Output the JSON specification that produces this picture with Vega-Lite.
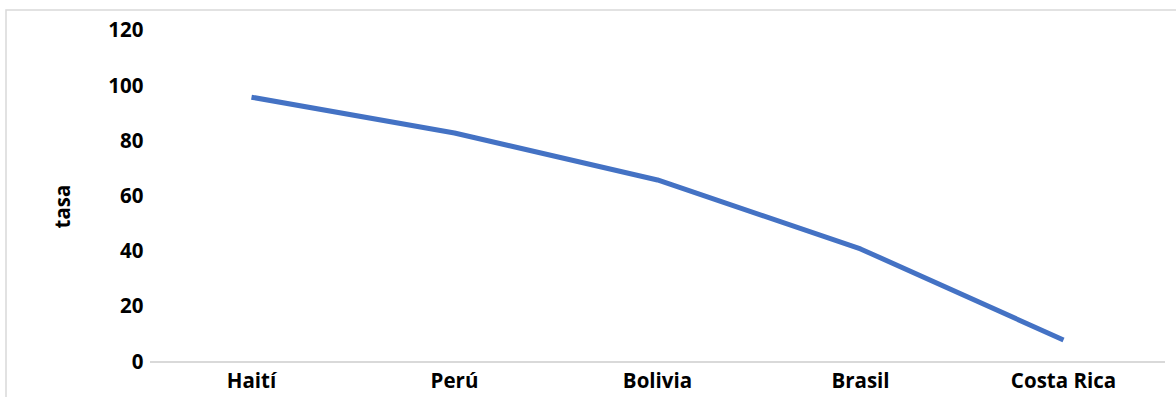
{
  "$schema": "https://vega.github.io/schema/vega-lite/v6.json",
  "width": 1180,
  "height": 392,
  "autosize": {"type": "none"},
  "padding": {"left": 6, "top": 10, "right": 0, "bottom": 0},
  "background": "white",
  "config": {
    "font": "Open Sans",
    "view": {"stroke": "#d9d9d9", "strokeWidth": 1.5},
    "axis": {
      "labelFont": "Open Sans",
      "labelFontWeight": "bold",
      "labelFontSize": 20.5,
      "labelColor": "#000000",
      "titleFont": "Open Sans",
      "titleFontWeight": "bold",
      "titleFontSize": 20.5,
      "titleColor": "#000000",
      "ticks": false,
      "domain": false,
      "grid": false
    }
  },
  "datasets": {
    "tasas": [
      {"pais": "Haití", "tasa": 96},
      {"pais": "Perú", "tasa": 83},
      {"pais": "Bolivia", "tasa": 66},
      {"pais": "Brasil", "tasa": 41},
      {"pais": "Costa Rica", "tasa": 8}
    ],
    "base": [
      {"desde": "Haití", "hasta": "Costa Rica", "valor": 0}
    ]
  },
  "layer": [
    {
      "data": {"name": "base"},
      "mark": {"type": "rule", "color": "#d9d9d9", "strokeWidth": 2},
      "encoding": {
        "x": {"field": "desde", "type": "nominal", "bandPosition": 0},
        "x2": {"field": "hasta", "bandPosition": 1},
        "y": {"field": "valor", "type": "quantitative"}
      }
    },
    {
      "data": {"name": "tasas"},
      "mark": {"type": "line", "color": "#4472C4", "strokeWidth": 5, "strokeJoin": "round"},
      "encoding": {
        "x": {"field": "pais", "type": "nominal", "sort": null},
        "y": {"field": "tasa", "type": "quantitative"}
      }
    }
  ],
  "resolve": {"scale": {"x": "shared", "y": "shared"}},
  "encoding": {
    "x": {
      "type": "nominal",
      "scale": {
        "type": "band",
        "domain": ["Haití", "Perú", "Bolivia", "Brasil", "Costa Rica"],
        "paddingInner": 0,
        "paddingOuter": 0.4064,
        "align": 0.8727
      },
      "axis": {"orient": "bottom", "offset": -40, "labelPadding": 9, "labelAngle": 0, "title": null}
    },
    "y": {
      "type": "quantitative",
      "scale": {"domain": [-14.5, 127.61], "nice": false, "zero": false},
      "axis": {
        "orient": "left",
        "offset": -144,
        "labelPadding": 7,
        "values": [0, 20, 40, 60, 80, 100, 120],
        "title": "tasa",
        "titlePadding": 34
      }
    }
  }
}
